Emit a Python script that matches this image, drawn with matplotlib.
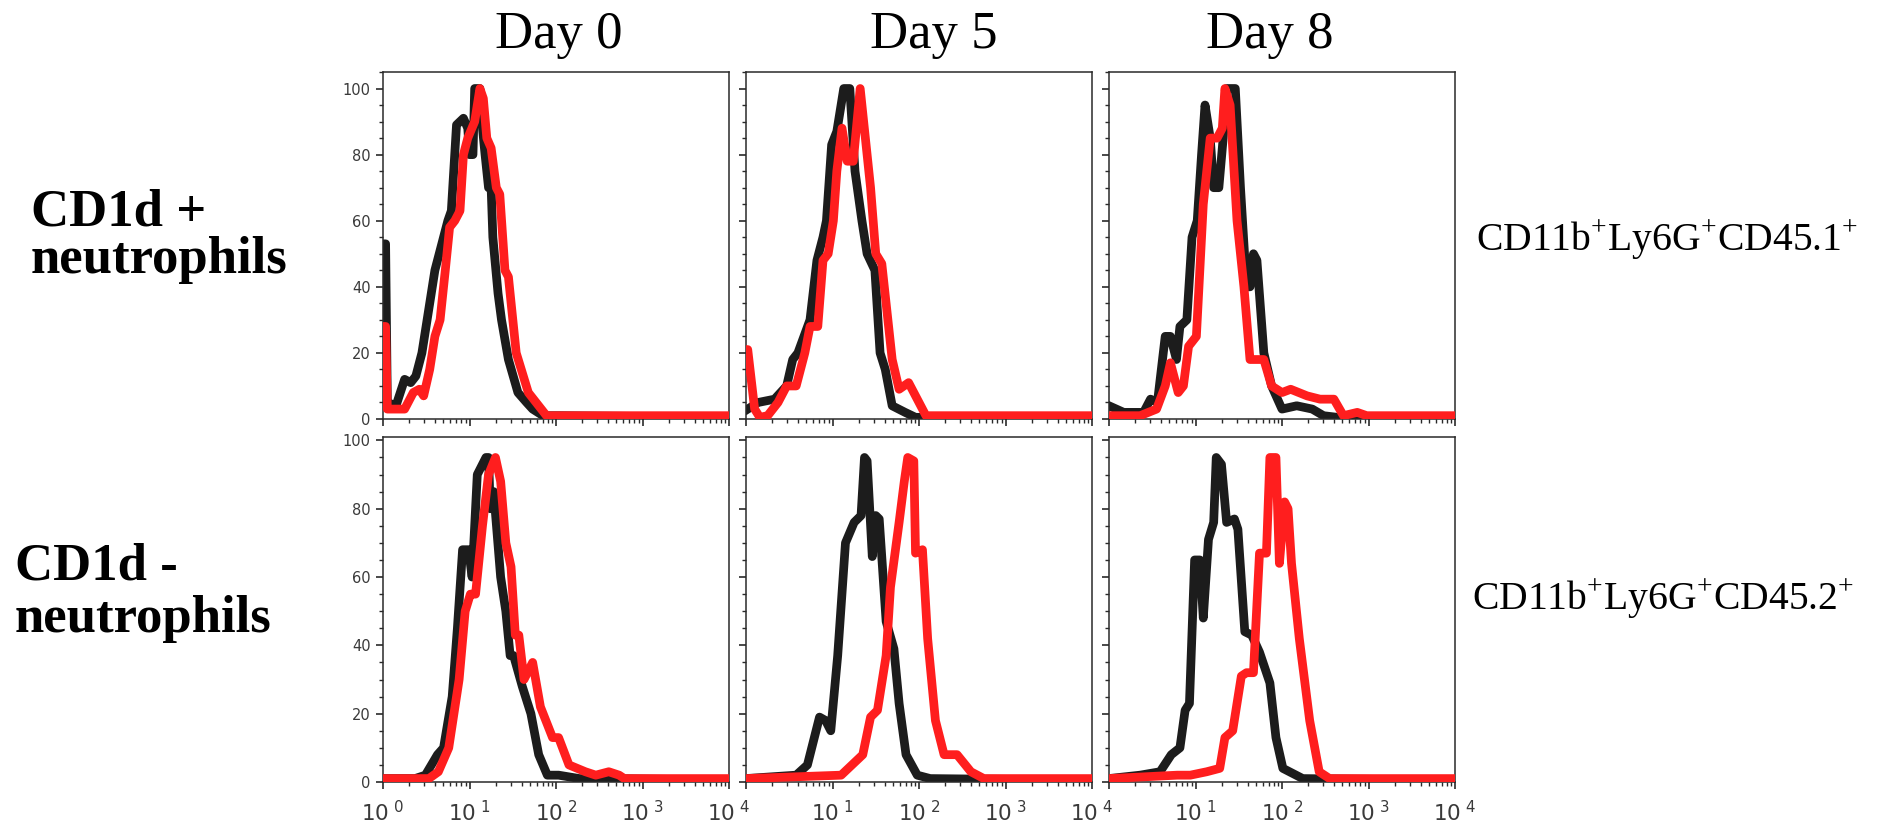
import numpy as np
import matplotlib
matplotlib.use("Agg")
import matplotlib.pyplot as plt
from matplotlib.ticker import MultipleLocator, LogLocator, NullFormatter

plt.rcParams["mathtext.fontset"] = "custom"
plt.rcParams["mathtext.rm"] = "Liberation Serif"

# ---- row / column labels ----
days = ["Day 0", "Day 5", "Day 8"]
row_names = [("CD1d +", "neutrophils"), ("CD1d -", "neutrophils")]
gate_labels = [r"CD11b$^{\mathregular{+}}$Ly6G$^{\mathregular{+}}$CD45.1$^{\mathregular{+}}$",
               r"CD11b$^{\mathregular{+}}$Ly6G$^{\mathregular{+}}$CD45.2$^{\mathregular{+}}$"]
decades = [0, 1, 2, 3, 4]
y_ticks = [0, 20, 40, 60, 80, 100]

# ---- histogram traces: log10(fluorescence) and % of max ----
# CD1d+ , Day 0
pos_d0_black_x = [0.02, 0.03, 0.05, 0.15, 0.25, 0.32, 0.38, 0.45, 0.54, 0.60, 0.68, 0.75, 0.79, 0.85, 0.93,
                  0.98, 1.00, 1.04, 1.06, 1.12, 1.15, 1.18, 1.22, 1.25, 1.27, 1.33, 1.37, 1.45, 1.56, 1.66,
                  1.73, 1.85, 2.05, 4.0]
pos_d0_black_y = [53, 53, 5, 4, 12, 11, 13, 20, 35, 45, 53, 60, 63, 89, 91,
                  88, 80, 80, 100, 100, 88, 80, 70, 70, 55, 38, 30, 18, 8, 5,
                  3, 1, 1, 0.5]
pos_d0_red_x = [0.02, 0.03, 0.05, 0.25, 0.35, 0.42, 0.47, 0.54, 0.60, 0.66, 0.72, 0.77, 0.83, 0.89, 0.93,
                0.98, 1.06, 1.12, 1.16, 1.20, 1.25, 1.31, 1.35, 1.41, 1.45, 1.54, 1.68, 1.77, 1.89, 4.0]
pos_d0_red_y = [28, 28, 3, 3, 8, 9, 7, 15, 25, 30, 45, 58, 60, 63, 80,
                85, 90, 100, 97, 85, 82, 70, 68, 45, 43, 20, 8, 5, 1, 1]

# CD1d+ , Day 5
pos_d5_black_x = [0.02, 0.14, 0.33, 0.47, 0.54, 0.60, 0.74, 0.82, 0.89, 0.93, 0.99, 1.05, 1.13, 1.20,
                  1.26, 1.34, 1.40, 1.49, 1.55, 1.61, 1.69, 1.84, 1.96, 4.0]
pos_d5_black_y = [3, 5, 6, 10, 18, 20, 30, 48, 55, 60, 83, 87, 100, 100,
                  75, 60, 50, 45, 20, 15, 4, 2, 0.5, 0.5]
pos_d5_red_x = [0.0, 0.02, 0.10, 0.16, 0.25, 0.37, 0.47, 0.58, 0.68, 0.74, 0.83, 0.89, 0.95, 1.01, 1.05,
                1.11, 1.17, 1.24, 1.32, 1.44, 1.50, 1.57, 1.69, 1.77, 1.88, 1.96, 2.08, 4.0]
pos_d5_red_y = [21, 21, 3, 0.5, 1, 5, 10, 10, 20, 28, 28, 48, 50, 60, 75,
                88, 78, 78, 100, 70, 50, 47, 18, 9, 11, 7, 1, 1]

# CD1d+ , Day 8
pos_d8_black_x = [0.0, 0.17, 0.40, 0.48, 0.56, 0.65, 0.71, 0.78, 0.82, 0.90, 0.96, 1.02, 1.07, 1.11, 1.17,
                  1.21, 1.27, 1.32, 1.36, 1.46, 1.52, 1.59, 1.63, 1.67, 1.71, 1.79, 1.88, 2.00, 2.17, 2.35,
                  2.48, 2.64, 4.0]
pos_d8_black_y = [4, 2, 2, 6, 5, 25, 25, 18, 28, 30, 55, 60, 80, 95, 85,
                  70, 70, 85, 100, 100, 70, 40, 40, 50, 48, 20, 10, 3, 4, 3,
                  1, 0.5, 0.5]
pos_d8_red_x = [0.0, 0.36, 0.55, 0.65, 0.71, 0.80, 0.86, 0.92, 1.01, 1.09, 1.17, 1.25, 1.31, 1.34, 1.40,
                1.48, 1.56, 1.63, 1.79, 1.88, 2.00, 2.10, 2.29, 2.44, 2.60, 2.71, 2.87, 2.98, 4.0]
pos_d8_red_y = [1, 1, 3, 10, 17, 8, 10, 22, 25, 65, 85, 85, 88, 100, 95,
                60, 40, 18, 18, 10, 8, 9, 7, 6, 6, 1, 2, 1, 1]

# CD1d- , Day 0
neg_d0_black_x = [0.0, 0.37, 0.49, 0.63, 0.70, 0.80, 0.86, 0.92, 0.99, 1.03, 1.09, 1.19, 1.22, 1.24, 1.28,
                  1.36, 1.42, 1.47, 1.51, 1.61, 1.71, 1.80, 1.90, 2.03, 2.27, 2.65, 4.0]
neg_d0_black_y = [1, 1, 2, 8, 10, 25, 45, 68, 68, 60, 90, 95, 95, 80, 85,
                  60, 50, 37, 37, 28, 20, 8, 2, 2, 1, 1, 0.5]
neg_d0_red_x = [0.0, 0.53, 0.64, 0.76, 0.88, 0.95, 1.01, 1.07, 1.15, 1.22, 1.30, 1.36, 1.42, 1.48, 1.53,
                1.57, 1.63, 1.73, 1.82, 1.96, 2.03, 2.15, 2.34, 2.46, 2.61, 2.73, 2.79, 4.0]
neg_d0_red_y = [1, 1, 3, 10, 30, 50, 55, 55, 75, 90, 95, 88, 70, 63, 43,
                43, 30, 35, 22, 13, 13, 5, 3, 2, 3, 2, 1, 1]

# CD1d- , Day 5
neg_d5_black_x = [0.0, 0.58, 0.71, 0.85, 0.92, 0.98, 1.06, 1.15, 1.25, 1.33, 1.37, 1.40, 1.46, 1.50, 1.54,
                  1.62, 1.71, 1.77, 1.85, 1.98, 2.13, 4.0]
neg_d5_black_y = [1, 2, 5, 19, 18, 15, 37, 70, 76, 78, 95, 94, 66, 78, 77,
                  47, 39, 23, 8, 2, 1, 0.5]
neg_d5_red_x = [0.0, 1.10, 1.35, 1.44, 1.52, 1.62, 1.67, 1.77, 1.83, 1.87, 1.94, 1.96, 2.04, 2.10, 2.19,
                2.29, 2.44, 2.60, 2.75, 4.0]
neg_d5_red_y = [1, 2, 8, 19, 21, 37, 57, 76, 88, 95, 94, 67, 68, 42, 18,
                8, 8, 3, 1, 1]

# CD1d- , Day 8
neg_d8_black_x = [0.0, 0.36, 0.59, 0.72, 0.82, 0.88, 0.93, 0.99, 1.05, 1.09, 1.15, 1.21, 1.24, 1.30, 1.36,
                  1.45, 1.49, 1.57, 1.65, 1.74, 1.86, 1.93, 2.01, 2.24, 4.0]
neg_d8_black_y = [1, 2, 3, 8, 10, 21, 23, 65, 65, 48, 71, 76, 95, 93, 76,
                  77, 74, 44, 43, 38, 29, 13, 4, 1, 0.5]
neg_d8_red_x = [0.0, 0.79, 0.94, 1.13, 1.28, 1.34, 1.43, 1.53, 1.59, 1.67, 1.74, 1.82, 1.86, 1.93, 1.97,
                2.03, 2.07, 2.11, 2.20, 2.32, 2.43, 2.55, 4.0]
neg_d8_red_y = [1, 2, 2, 3, 4, 13, 15, 31, 32, 32, 67, 67, 95, 95, 64,
                82, 80, 64, 42, 18, 3, 1, 1]

panels = [
    [(pos_d0_black_x, pos_d0_black_y, pos_d0_red_x, pos_d0_red_y),
     (pos_d5_black_x, pos_d5_black_y, pos_d5_red_x, pos_d5_red_y),
     (pos_d8_black_x, pos_d8_black_y, pos_d8_red_x, pos_d8_red_y)],
    [(neg_d0_black_x, neg_d0_black_y, neg_d0_red_x, neg_d0_red_y),
     (neg_d5_black_x, neg_d5_black_y, neg_d5_red_x, neg_d5_red_y),
     (neg_d8_black_x, neg_d8_black_y, neg_d8_red_x, neg_d8_red_y)],
]

# ---- layout (pixel geometry) ----
W, H = 1903, 826
fig = plt.figure(figsize=(W / 100, H / 100), dpi=100)
fig.patch.set_facecolor("white")

col_left = [383, 746, 1109]
col_w = 346
row_top = [72, 437]
row_h = [347, 345]
row_ymax = [105, 101]

BLACK = "#1c1c1c"
RED = "#ff1e1e"
AX_COL = "#2a2a2a"
TICK_TXT = "#3a3a3a"
LW = 6.3

for r in range(2):
    for c in range(3):
        ax = fig.add_axes([col_left[c] / W, 1 - (row_top[r] + row_h[r]) / H, col_w / W, row_h[r] / H])
        bx, by, rx, ry = panels[r][c]
        ax.plot(10.0 ** np.array(bx), by, color=BLACK, lw=LW, solid_joinstyle="round", zorder=2)
        ax.plot(10.0 ** np.array(rx), ry, color=RED, lw=LW, solid_joinstyle="round", zorder=3)
        ax.set_xscale("log")
        ax.set_xlim(1, 1e4)
        ax.set_ylim(0, row_ymax[r])

        ax.tick_params(which="major", direction="out", length=5, width=1.2, color=AX_COL)
        ax.tick_params(which="minor", direction="out", length=3, width=1.0, color=AX_COL)
        ax.tick_params(axis="x", which="major", pad=8)
        ax.tick_params(axis="y", which="major", pad=4)

        ax.xaxis.set_minor_locator(LogLocator(base=10, subs=np.arange(2, 10), numticks=20))
        ax.xaxis.set_minor_formatter(NullFormatter())
        ax.set_xticks([10.0 ** d for d in decades])
        if r == 1:
            labels = [r"$\mathregular{10^{\ %d}}$" % d for d in decades]
            if c > 0:
                labels[0] = ""
            ax.set_xticklabels(labels, fontsize=15.5, color=TICK_TXT)
        else:
            ax.set_xticklabels([])

        ax.yaxis.set_minor_locator(MultipleLocator(5))
        ax.set_yticks(y_ticks)
        if c == 0:
            ax.set_yticklabels([str(v) for v in y_ticks], fontsize=10.5, color=TICK_TXT)
        else:
            ax.set_yticklabels([])

        for s in ax.spines.values():
            s.set_color(AX_COL)
            s.set_linewidth(1.1)

# ---- column titles ----
title_x = [559, 934, 1270]
for x, t in zip(title_x, days):
    fig.text(x / W, 1 - 48 / H, t, ha="center", va="baseline",
             family="Liberation Serif", fontsize=38, color="black")

# ---- row labels ----
row_label_pos = [(31, 226, 273), (15, 580, 632)]
for (x, b1, b2), (l1, l2) in zip(row_label_pos, row_names):
    fig.text(x / W, 1 - b1 / H, l1, ha="left", va="baseline",
             family="Liberation Serif", fontweight="bold", fontsize=38)
    fig.text(x / W, 1 - b2 / H, l2, ha="left", va="baseline",
             family="Liberation Serif", fontweight="bold", fontsize=38)

# ---- gate labels ----
gate_pos = [(1476, 251), (1472, 610)]
for (x, b), t in zip(gate_pos, gate_labels):
    fig.text(x / W, 1 - b / H, t, ha="left", va="baseline",
             family="Liberation Serif", fontsize=28.5)

fig.savefig("out.png", dpi=100, facecolor="white")
